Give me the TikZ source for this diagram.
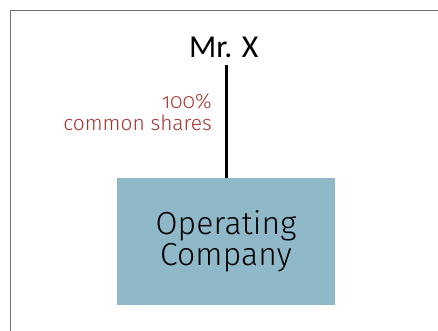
\documentclass[tikz,border=0pt]{standalone}
\usepackage{fontspec}
\setmainfont{Fira Sans Light}
\newfontfamily\mrxfont{Carlito}
\newfontfamily\boxfont[LetterSpace=0.5]{Fira Sans Light}
\newfontfamily\lblfont[Numbers=OldStyle]{Fira Sans Light}
\definecolor{framegray}{HTML}{6E7077}
\definecolor{boxblue}{HTML}{8FB8C9}
\definecolor{lblred}{HTML}{A8322F}
\tikzset{
  person/.style={inner sep=0pt, anchor=base, font=\mrxfont\fontsize{32}{32}\selectfont},
  company/.style={fill=boxblue, draw=none, minimum width=217.7bp, minimum height=127.3bp, inner sep=0pt, align=center, font=\boxfont\fontsize{32}{31}\selectfont},
  ownlabel/.style={text=lblred, align=right, inner sep=0pt, anchor=north east, font=\lblfont\fontsize{21}{22.4}\selectfont},
  link/.style={line width=3bp, black},
}
\begin{document}
\begin{tikzpicture}[x=1bp, y=-1bp]
\useasboundingbox (0,0) rectangle (438,330);
\draw[framegray, line width=1.4bp] (10.5,340) -- (10.5,10.5) -- (450,10.5);
\node[person] (mrx) at (223.8,57) {Mr. X};
\coordinate (top) at (226,65);
\node[company] (box) at (226,241.6) {Operating\\Company};
\draw[link] (top) -- (box.north);
\node[ownlabel] (lbl) at (212,93.3) {100\%\\common shares};
\end{tikzpicture}
\end{document}
